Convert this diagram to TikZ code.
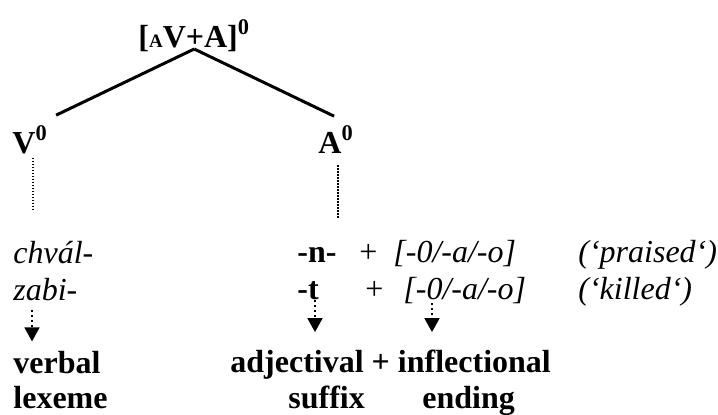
\documentclass[tikz,border=0pt]{standalone}
\usepackage{fontspec}
\setmainfont{Liberation Serif}
\usetikzlibrary{arrows.meta}

\begin{document}
\begin{tikzpicture}[x=0.5pt,y=-0.5pt,
  lbl/.style={inner sep=0pt,anchor=base west,font=\fontsize{16}{19}\selectfont},
  cat/.style={lbl,font=\fontsize{16}{19}\selectfont\bfseries},
  form/.style={lbl,font=\fontsize{16}{19}\selectfont\itshape},
  branch/.style={line width=1.5pt},
  link/.style={line width=0.8pt,dash pattern=on 0.7pt off 0.8pt},
  derive/.style={line width=0.9pt,dash pattern=on 0.9pt off 1.6pt,-{Triangle[width=7.5pt,length=7pt]}}]
 \useasboundingbox (0,0) rectangle (718,414);
 % tree
 \node[cat] (top) at (138,47) {[{\fontsize{9.5}{10}\selectfont A}V+A]\textsuperscript{0}};
 \node[cat] (V) at (12,153) {V\textsuperscript{0}};
 \node[cat] (A) at (318,153) {A\textsuperscript{0}};
 \draw[branch] ([yshift=-1pt]top.base) -- ([xshift=4pt,yshift=5pt]V.north east);
 \draw[branch] ([yshift=-1pt]top.base) -- ([xshift=-1pt,yshift=4.5pt]A.north);
 \draw[link] ([xshift=1.5pt,yshift=-2pt]V.south) -- ++(0,53);
 \draw[link] ([xshift=1pt,yshift=-6pt]A.south) -- ++(0,53);
 % forms
 \node[form] (chval) at (13,263) {chvál-};
 \node[form] (zabi) at (13,300) {zabi-};
 \node[cat] (nsuf) at (297,262) {-n-};
 \node[cat] (tsuf) at (297,299) {-t};
 \node[lbl] (plusn) at (359,262) {+};
 \node[lbl] (plust) at (365,299) {+};
 \node[form] (endn) at (393,262) {[-0/-a/-o]};
 \node[form] (endt) at (403,299) {[-0/-a/-o]};
 \node[form] (glossn) at (578,262) {(`praised`)};
 \node[form] (glosst) at (578,299) {(`killed`)};
 % morphemes
 \node[cat] (verbal) at (13,373) {verbal};
 \node[cat] (lexeme) at (13,408) {lexeme};
 \node[cat] (adjinfl) at (230,372) {adjectival + inflectional};
 \node[cat] (suffix) at (288,408) {suffix};
 \node[cat] (ending) at (422,408) {ending};
 \draw[derive] ([xshift=9.5pt,yshift=-5pt]zabi.base west) -- ([xshift=9.5pt,yshift=4.5pt]verbal.north west);
 \draw[derive] ([xshift=9pt,yshift=-0.5pt]tsuf.base west) -- ([xshift=42.5pt,yshift=8.5pt]adjinfl.north west);
 \draw[derive] ([xshift=14.5pt,yshift=-2pt]endt.base west) -- ([xshift=101pt,yshift=8.5pt]adjinfl.north west);
\end{tikzpicture}
\end{document}
